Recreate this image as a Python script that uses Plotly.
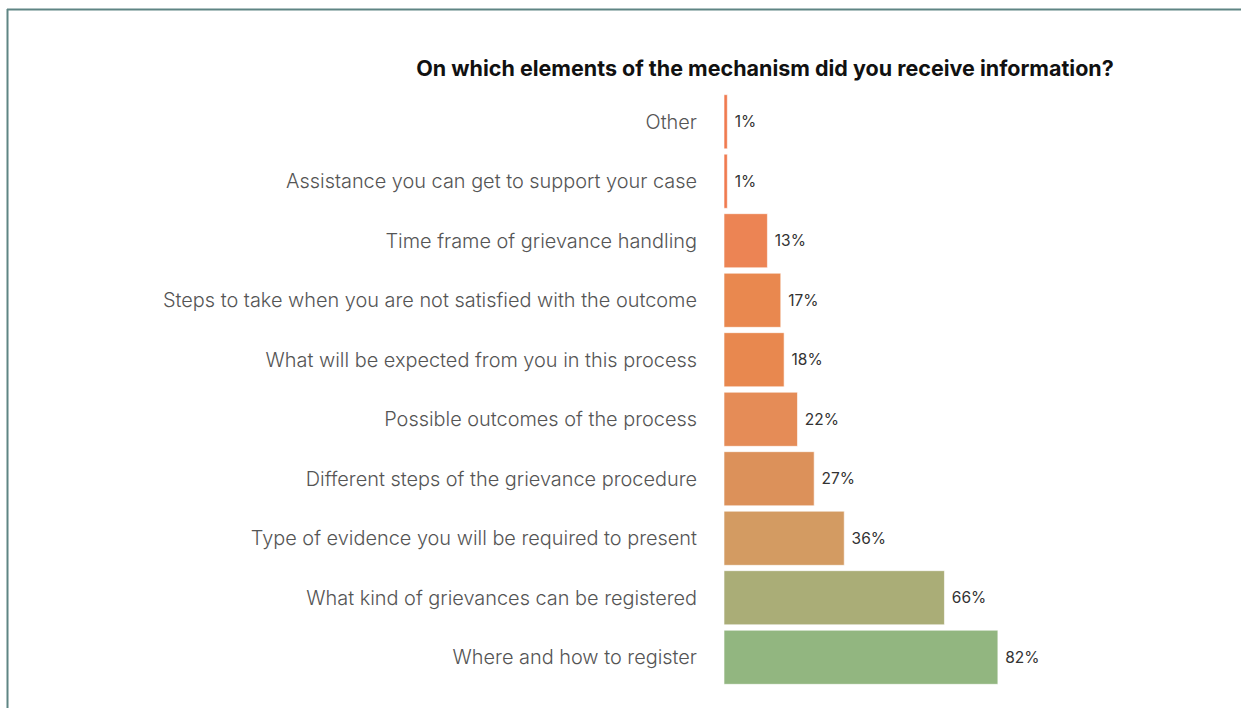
import plotly.graph_objects as go

# Survey responses, listed bottom to top
categories = [
    "Where and how to register",
    "What kind of grievances can be registered",
    "Type of evidence you will be required to present",
    "Different steps of the grievance procedure",
    "Possible outcomes of the process",
    "What will be expected from you in this process",
    "Steps to take when you are not satisfied with the outcome",
    "Time frame of grievance handling",
    "Assistance you can get to support your case",
    "Other",
]
shares = [82, 66, 36, 27, 22, 18, 17, 13, 1, 1]
labels = ["82%", "66%", "36%", "27%", "22%", "18%", "17%", "13%", "1%", "1%"]
bar_colors = ["#92b680", "#aaad77", "#d39b62", "#dc915a", "#e58c57",
              "#e8884f", "#e9884f", "#ec8454", "#f07a4f", "#f07a4f"]

W, H = 1241, 708
ML, MR, MT, MB = 724, 183, 92, 21

fig = go.Figure(go.Bar(
    x=shares,
    y=categories,
    orientation="h",
    marker=dict(color=bar_colors, line=dict(color="rgba(255,255,255,0.6)", width=1)),
    width=0.91,
    text=labels,
    texttemplate="\u00a0%{text}",
    textposition="outside",
    textfont=dict(family="Inter, Lato, sans-serif", size=15.5, color="#333333"),
    cliponaxis=False,
    hoverinfo="skip",
))

# frame lines along the top and left edges
pw, ph = W - ML - MR, H - MT - MB
def px_x(p):
    return (p - ML) / pw
def px_y(p):
    return (H - MB - p) / ph

frame = dict(color="#5f8584", width=2)
fig.add_shape(type="line", xref="paper", yref="paper",
              x0=px_x(7), x1=px_x(W + 5), y0=px_y(9.5), y1=px_y(9.5), line=frame)
fig.add_shape(type="line", xref="paper", yref="paper",
              x0=px_x(7.5), x1=px_x(7.5), y0=px_y(9), y1=px_y(H + 5), line=frame)

fig.update_layout(
    width=W, height=H,
    margin=dict(l=ML, r=MR, t=MT, b=MB),
    paper_bgcolor="white", plot_bgcolor="white",
    showlegend=False,
    title=dict(
        text="<b>On which elements of the mechanism did you receive information?</b>",
        x=765 / W, xanchor="center", y=1 - 68 / H, yanchor="middle",
        font=dict(family="Inter, Lato, sans-serif", size=21.5, color="#111111"),
    ),
    xaxis=dict(range=[0, 100], visible=False, showgrid=False, zeroline=False),
    yaxis=dict(
        range=[-0.5, 9.5],
        showgrid=False, zeroline=False, showline=False,
        ticks="", ticklabelstandoff=26,
        tickfont=dict(family="Inter, Lato, sans-serif", size=19.9, weight=300,
                      color="#555555"),
    ),
)

fig.write_html("out.html")
